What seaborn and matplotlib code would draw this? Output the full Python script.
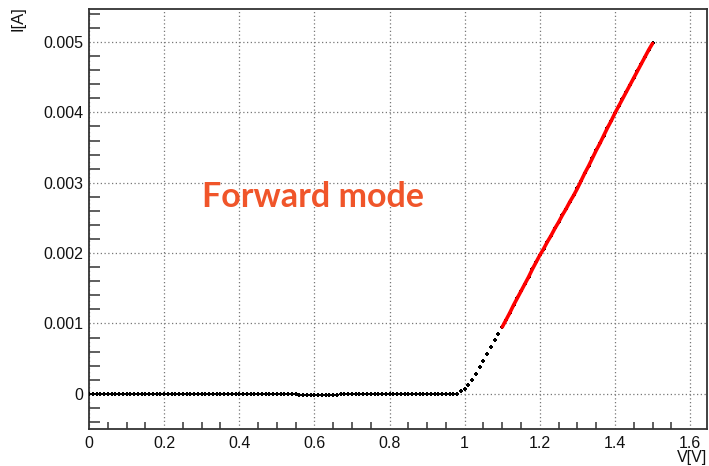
import numpy as np
import pandas as pd
import matplotlib
matplotlib.use("Agg")
import matplotlib.pyplot as plt
import seaborn as sns
from matplotlib.ticker import MultipleLocator

# ---- data ----
flat_v = [round(0.01 * i, 2) for i in range(0, 99)]
flat_i = ([0.0] * 55 +
          [-0.000008, -0.000012, -0.000015, -0.000015, -0.000012, -0.000015,
           -0.000015, -0.000012, -0.000010, -0.000012, -0.000015, -0.000012,
           -0.000008] +
          [0.0] * 31)
knee_v = [0.99, 1.00, 1.01, 1.02, 1.03, 1.04, 1.05, 1.06, 1.07, 1.08, 1.09]
knee_i = [0.00004, 0.00007, 0.00013, 0.00020, 0.00028, 0.00038, 0.00046,
          0.00057, 0.00067, 0.00076, 0.00085]
fit_v = [1.10, 1.11, 1.12, 1.13, 1.14, 1.15, 1.16, 1.17, 1.18, 1.19, 1.20,
         1.21, 1.22, 1.23, 1.24, 1.25, 1.26, 1.27, 1.28, 1.29, 1.30,
         1.31, 1.32, 1.33, 1.34, 1.35, 1.36, 1.37, 1.38, 1.39, 1.40,
         1.41, 1.42, 1.43, 1.44, 1.45, 1.46, 1.47, 1.48, 1.49, 1.50]
fit_i = [0.00095, 0.00105, 0.00115, 0.00126, 0.00136, 0.00146, 0.00156,
         0.00166, 0.00177, 0.00187, 0.00197, 0.00206, 0.00216, 0.00225,
         0.00235, 0.00244, 0.00254, 0.00263, 0.00273, 0.00282, 0.00292,
         0.00303, 0.00314, 0.00324, 0.00335, 0.00346, 0.00356, 0.00367,
         0.00378, 0.00388, 0.00399, 0.00409, 0.00419, 0.00429, 0.00439,
         0.00449, 0.00459, 0.00469, 0.00479, 0.00489, 0.00498]
x_ticks = [0, 0.2, 0.4, 0.6, 0.8, 1.0, 1.2, 1.4, 1.6]
x_labels = ["0", "0.2", "0.4", "0.6", "0.8", "1", "1.2", "1.4", "1.6"]
y_ticks = [0, 0.001, 0.002, 0.003, 0.004, 0.005]
y_labels = ["0", "0.001", "0.002", "0.003", "0.004", "0.005"]

sns.set_theme(style="white")
plt.rcParams['font.family'] = ['Liberation Sans', 'DejaVu Sans']

fig = plt.figure(figsize=(7.09, 4.66), dpi=100)
ax = fig.add_axes([89 / 709, 37 / 466, 618 / 709, 420 / 466])

dots = pd.DataFrame({"V": flat_v + knee_v + fit_v,
                     "I": flat_i + knee_i + fit_i})
fit = pd.DataFrame({"V": fit_v, "I": fit_i})

sns.scatterplot(data=dots, x="V", y="I", ax=ax, color="black", marker="P",
                s=9, linewidth=0, zorder=3)
sns.lineplot(data=fit, x="V", y="I", ax=ax, color="#ff0000", linewidth=2.6,
             zorder=4)

ax.set_xlim(0, 1.645)
ax.set_ylim(-0.0005, 0.00547)
ax.set_xticks(x_ticks)
ax.set_xticklabels(x_labels)
ax.set_yticks(y_ticks)
ax.set_yticklabels(y_labels)
ax.xaxis.set_minor_locator(MultipleLocator(0.05))
ax.yaxis.set_minor_locator(MultipleLocator(0.0002))
ax.grid(True, which="major", linestyle=(0, (1, 2)), color="#777777",
        linewidth=0.9)
ax.tick_params(axis="x", which="major", direction="in", length=9, width=1.1,
               colors="#333333", labelcolor="#111111", labelsize=11.5, pad=5)
ax.tick_params(axis="x", which="minor", direction="in", length=5, width=1.1,
               colors="#333333", bottom=True)
ax.tick_params(axis="y", which="major", direction="in", length=14, width=1.1,
               colors="#333333", labelcolor="#111111", labelsize=11.5, pad=4)
ax.tick_params(axis="y", which="minor", direction="in", length=8, width=1.1,
               colors="#333333", left=True)
for s in ax.spines.values():
    s.set_color("#333333")
    s.set_linewidth(1.3)

ax.set_xlabel("")
ax.set_ylabel("")
fig.text(707 / 709, 1 - 465 / 466, "V[V]", ha="right", va="bottom",
         fontsize=11.5, color="#111111")
fig.text(18 / 709, 1 - 19 / 466, "I[A]", ha="center", va="center",
         fontsize=12, rotation=90, color="#111111")

ax.text(0.3, 0.0028, "Forward mode", color="#f0552a", fontsize=24.5,
        fontweight="bold", family=["Lato", "DejaVu Sans"], ha="left",
        va="center")

fig.savefig("out.png", dpi=100)
